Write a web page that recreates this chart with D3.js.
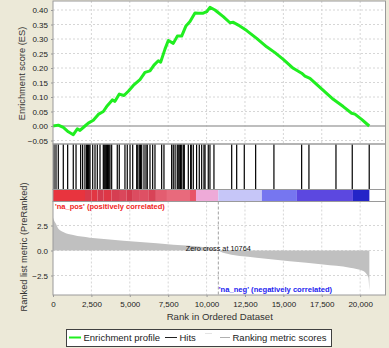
<!DOCTYPE html>
<html>
<head>
<meta charset="utf-8">
<script src="https://cdn.jsdelivr.net/npm/d3@7"></script>
<style>
  body { margin: 0; background: #ece9d8; }
  text { font-family: "Liberation Sans", Arial, sans-serif; }
</style>
</head>
<body>
<div id="chart"></div>
<script>
// Running enrichment score
const esRanks = [0, 345, 671, 997, 1322, 1584, 1758, 2083, 2300, 2625, 2950, 3276, 3537, 3863, 4036, 4318, 4622, 4904, 5230, 5664, 5989, 6315, 6575, 6858, 7009, 7291, 7508, 7834, 8094, 8378, 8658, 8919, 9244, 9459, 9785, 10006, 10221, 10546, 11087, 11523, 11738, 12063, 12610, 13261, 13912, 14452, 14993, 15644, 16190, 16405, 16731, 17382, 18248, 18899, 19445, 19660, 20096, 20590];
const esValues = [0.000, 0.003, -0.005, -0.020, -0.030, -0.010, -0.015, 0.000, 0.010, 0.020, 0.040, 0.050, 0.070, 0.090, 0.085, 0.110, 0.105, 0.120, 0.140, 0.160, 0.185, 0.190, 0.210, 0.225, 0.220, 0.265, 0.295, 0.285, 0.310, 0.310, 0.345, 0.360, 0.390, 0.389, 0.389, 0.394, 0.409, 0.400, 0.377, 0.356, 0.358, 0.348, 0.329, 0.302, 0.273, 0.253, 0.230, 0.199, 0.182, 0.172, 0.164, 0.133, 0.092, 0.067, 0.044, 0.041, 0.023, 0.000];

// Positions of gene set members in the ranked list
const hitRanks = [65, 195, 345, 670, 955, 1320, 1500, 1800, 1930, 2080, 2190, 2240, 2300, 2350, 2410, 2585, 2735, 2885, 3060, 3275, 3330, 3385, 3440, 3495, 3550, 3600, 3650, 3710, 3820, 4185, 4315, 4685, 4835, 5015, 5190, 5450, 5520, 5620, 5700, 5775, 5925, 6055, 6140, 6315, 6490, 6640, 7075, 7225, 7725, 7830, 7950, 8090, 8150, 8220, 8300, 8380, 8485, 8550, 8810, 8965, 9000, 9135, 9350, 9525, 9680, 9830, 9900, 10110, 10220, 10480, 11635, 11960, 12455, 13195, 14385, 16190, 16665, 18425, 19485, 20590];

// Ranked list metric
const metricRanks = [0, 100, 200, 350, 670, 1320, 2400, 3500, 5670, 7840, 10000, 10764, 11070, 13250, 15420, 17590, 19330, 20200, 20530, 20600];
const metricValues = [3.3, 2.9, 2.66, 2.18, 1.86, 1.54, 1.28, 1.12, 0.84, 0.58, 0.3, 0.0, -0.22, -0.72, -1.07, -1.4, -1.72, -2.04, -2.68, -3.96];

// Colour bar blocks: rank edges and metric level of each block
const blockEdges = [0, 2083, 2500, 2900, 3300, 3800, 4360, 4800, 5200, 5660, 6200, 6700, 7420, 8920, 9310, 10764, 13600, 15880, 19530, 20600];
const blockLevels = [1.0, 0.92, 0.97, 0.9, 0.95, 0.88, 0.84, 0.9, 0.82, 0.8, 0.86, 0.76, 0.72, 0.6, 0.3, -0.3, -0.55, -0.7, -1.0];

const zeroCross = 10764;
const xTicks = [0, 2500, 5000, 7500, 10000, 12500, 15000, 17500, 20000];
const esTicks = [-0.05, 0, 0.05, 0.10, 0.15, 0.20, 0.25, 0.30, 0.35, 0.40];
const metricTicks = [-2.5, 0, 2.5];

const width = 389;
const height = 348;
const left = 53, right = 385.5;

const svg = d3.select("#chart")
    .append("svg")
    .attr("width", width)
    .attr("height", height)
    .attr("viewBox", `0 0 ${width} ${height}`);

const x = d3.scaleLinear().domain([0, 21650]).range([left, right]);
const yES = d3.scaleLinear().domain([0, 0.4]).range([126, 10]);
const yM = d3.scaleLinear().domain([0, 2.5]).range([250.5, 225.5]);

const esTop = 1, esBottom = 144;
const hitsBottom = 189.5, barBottom = 201.5;
const mBottom = 295;

const barColor = d3.scaleLinear()
    .domain([-1, -0.7, -0.55, -0.3, 0.3, 0.6, 0.72, 0.8, 0.9, 1])
    .range(["#2424c8", "#5c48e0", "#7676f0", "#c6c6f8", "#eeaad8", "#e85466", "#e86a7c", "#de5064", "#d43a4e", "#e8343e"]);

// panel backgrounds
svg.append("rect").attr("x", left).attr("y", esTop).attr("width", right - left).attr("height", mBottom - esTop).attr("fill", "#fff");

const grid = "#d6d6d6";

// ES panel grid
svg.append("g").selectAll("line")
    .data(esTicks.filter(d => d !== 0))
    .join("line")
    .attr("x1", left).attr("x2", right)
    .attr("y1", d => yES(d)).attr("y2", d => yES(d))
    .attr("stroke", grid).attr("stroke-dasharray", "2,2");
svg.append("g").selectAll("line")
    .data(xTicks.filter(d => d > 0))
    .join("line")
    .attr("x1", d => x(d)).attr("x2", d => x(d))
    .attr("y1", esTop).attr("y2", esBottom)
    .attr("stroke", grid).attr("stroke-dasharray", "2,2");

// metric panel grid
svg.append("g").selectAll("line")
    .data(metricTicks)
    .join("line")
    .attr("x1", left).attr("x2", right)
    .attr("y1", d => yM(d)).attr("y2", d => yM(d))
    .attr("stroke", grid).attr("stroke-dasharray", "2,2");
svg.append("g").selectAll("line")
    .data(xTicks.filter(d => d > 0))
    .join("line")
    .attr("x1", d => x(d)).attr("x2", d => x(d))
    .attr("y1", barBottom).attr("y2", mBottom)
    .attr("stroke", grid).attr("stroke-dasharray", "2,2");

// ES zero line
svg.append("line")
    .attr("x1", left).attr("x2", right)
    .attr("y1", yES(0)).attr("y2", yES(0))
    .attr("stroke", "#a8a8a8").attr("stroke-width", 1.5);

// ES curve
svg.append("path")
    .datum(esRanks.map((r, i) => [r, esValues[i]]))
    .attr("d", d3.line().x(d => x(d[0])).y(d => yES(d[1])))
    .attr("fill", "none")
    .attr("stroke", "#20ee20")
    .attr("stroke-width", 3)
    .attr("stroke-linejoin", "round");

// hits
svg.append("g").selectAll("line")
    .data(hitRanks)
    .join("line")
    .attr("x1", d => x(d)).attr("x2", d => x(d))
    .attr("y1", esBottom).attr("y2", hitsBottom)
    .attr("stroke", "#000").attr("stroke-width", 1.2);

// colour bar
svg.append("g").selectAll("rect")
    .data(blockLevels)
    .join("rect")
    .attr("x", (d, i) => x(blockEdges[i]))
    .attr("width", (d, i) => x(blockEdges[i + 1]) - x(blockEdges[i]))
    .attr("y", hitsBottom)
    .attr("height", barBottom - hitsBottom)
    .attr("fill", d => barColor(d));

// ranked metric area
svg.append("path")
    .datum(metricRanks.map((r, i) => [r, metricValues[i]]))
    .attr("d", d3.area().curve(d3.curveMonotoneX)
        .x(d => x(d[0])).y0(yM(0)).y1(d => yM(d[1])))
    .attr("fill", "#c0c0c0");

// zero cross marker
svg.append("line")
    .attr("x1", x(zeroCross)).attr("x2", x(zeroCross))
    .attr("y1", barBottom).attr("y2", mBottom)
    .attr("stroke", "#a0a0a0").attr("stroke-dasharray", "3,2");

svg.append("text")
    .attr("x", x(zeroCross)).attr("y", 251)
    .attr("text-anchor", "middle")
    .style("font-size", "7.3px")
    .attr("fill", "#111")
    .text(`Zero cross at ${zeroCross}`);

svg.append("text")
    .attr("x", 55).attr("y", 209)
    .style("font-size", "7.5px")
    .style("font-weight", "bold")
    .attr("fill", "#f01c1c")
    .text("'na_pos' (positively correlated)");

svg.append("text")
    .attr("x", x(zeroCross) + 0.5).attr("y", 291.5)
    .style("font-size", "7.6px")
    .style("font-weight", "bold")
    .attr("fill", "#2424f0")
    .text("'na_neg' (negatively correlated)");

// panel frames
const frame = "#9a9a9a";
[[esTop, esBottom], [esBottom, hitsBottom], [hitsBottom, barBottom], [barBottom, mBottom]].forEach(([a, b]) => {
    svg.append("rect")
        .attr("x", left).attr("y", a)
        .attr("width", right - left).attr("height", b - a)
        .attr("fill", "none").attr("stroke", frame).attr("stroke-width", 1);
});

// axes
const esAxis = svg.append("g")
    .attr("transform", `translate(${left},0)`)
    .call(d3.axisLeft(yES).tickValues(esTicks).tickFormat(d3.format(".2f")).tickSize(2).tickPadding(3));
const mAxis = svg.append("g")
    .attr("transform", `translate(${left},0)`)
    .call(d3.axisLeft(yM).tickValues(metricTicks).tickFormat(d3.format(".1f")).tickSize(2).tickPadding(3));
const xAxis = svg.append("g")
    .attr("transform", `translate(0,${mBottom})`)
    .call(d3.axisBottom(x).tickValues(xTicks).tickFormat(d3.format(",")).tickSize(2).tickPadding(4));

[esAxis, mAxis, xAxis].forEach(g => {
    g.select(".domain").remove();
    g.selectAll("line").attr("stroke", frame);
    g.selectAll("text")
        .attr("fill", "#222")
        .style("font-size", "8px")
        .style("font-family", "'Liberation Sans', Arial, sans-serif");
});

// axis titles
svg.append("text")
    .attr("transform", `translate(24.5,${(esTop + esBottom) / 2 + 1}) rotate(-90)`)
    .attr("text-anchor", "middle")
    .style("font-size", "9.3px")
    .attr("fill", "#333")
    .text("Enrichment score (ES)");

svg.append("text")
    .attr("transform", `translate(27,247) rotate(-90)`)
    .attr("text-anchor", "middle")
    .style("font-size", "9.3px")
    .attr("fill", "#333")
    .text("Ranked list metric (PreRanked)");

svg.append("text")
    .attr("x", (left + right) / 2 + 0.5).attr("y", 320)
    .attr("text-anchor", "middle")
    .style("font-size", "9.6px")
    .attr("fill", "#333")
    .text("Rank in Ordered Dataset");

// legend
const legend = svg.append("g").attr("class", "legend");
legend.append("rect")
    .attr("x", 66.5).attr("y", 329.5)
    .attr("width", 265).attr("height", 17)
    .attr("fill", "#fff").attr("stroke", "#404040");

const legendItems = [
    { x: 69, len: 12, color: "#20ee20", w: 2, dy: 0, label: "Enrichment profile" },
    { x: 165, len: 12, color: "#222", w: 1, dy: 0, label: "Hits" },
    { x: 205, len: 7, color: "#e4e4e4", w: 1, dy: -4, label: "" },
    { x: 220, len: 10, color: "#b0b0b0", w: 1, dy: 0, label: "Ranking metric scores" }
];
legendItems.forEach(it => {
    legend.append("line")
        .attr("x1", it.x).attr("x2", it.x + it.len)
        .attr("y1", 337.5 + it.dy).attr("y2", 337.5 + it.dy)
        .attr("stroke", it.color).attr("stroke-width", it.w);
    if (it.label) {
        legend.append("text")
            .attr("x", it.x + it.len + 2.5).attr("y", 341)
            .style("font-size", "9.5px")
            .attr("fill", "#222")
            .text(it.label);
    }
});
</script>
</body>
</html>
